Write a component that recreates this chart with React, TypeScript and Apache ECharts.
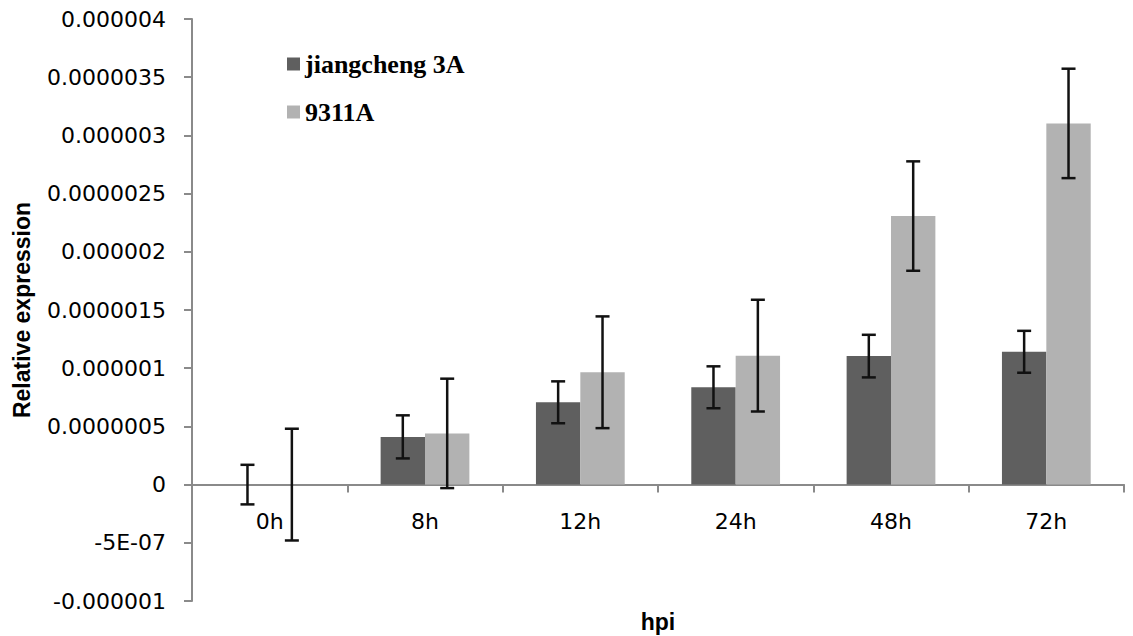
import React, { useEffect, useRef } from "react";
import * as echarts from "echarts";

const categories = ["0h", "8h", "12h", "24h", "48h", "72h"];
const seriesNames = ["jiangcheng 3A", "9311A"];
const jiangcheng = [0, 0.41e-6, 0.707e-6, 0.836e-6, 1.104e-6, 1.141e-6];
const jiangchengErr = [0.17e-6, 0.185e-6, 0.18e-6, 0.18e-6, 0.183e-6, 0.18e-6];
const a9311 = [0, 0.44e-6, 0.965e-6, 1.108e-6, 2.307e-6, 3.103e-6];
const a9311Err = [0.48e-6, 0.47e-6, 0.48e-6, 0.48e-6, 0.47e-6, 0.47e-6];
const yTickLabels = [
  "-0.000001",
  "-5E-07",
  "0",
  "0.0000005",
  "0.000001",
  "0.0000015",
  "0.000002",
  "0.0000025",
  "0.000003",
  "0.0000035",
  "0.000004",
];
const yMin = -0.000001;
const yMax = 0.000004;
const yStep = 0.0000005;

const colors = ["#5f5f5f", "#b2b2b2"];
const CAT_GAP = 1.5 / 3.5;

const GRID_TOP = 19;
const GRID_BOTTOM = 35;
const CHART_H = 636;

function errorSeries(values: number[], errs: number[], side: number) {
  return {
    type: "custom",
    silent: true,
    z: 10,
    encode: { x: 0, y: 1 },
    data: values.map((v, i) => [i, v, errs[i]]),
    renderItem: (params: any, api: any) => {
      const idx = api.value(0);
      const v = api.value(1);
      const e = api.value(2);
      const band = api.size([1, 0])[0];
      const barW = (band * (1 - CAT_GAP)) / 2;
      const top = api.coord([idx, v + e]);
      const bot = api.coord([idx, v - e]);
      const x = top[0] + (side * barW) / 2;
      const cap = 7;
      const style = { stroke: "#111111", lineWidth: 2.5 };
      return {
        type: "group",
        children: [
          { type: "line", shape: { x1: x, y1: top[1], x2: x, y2: bot[1] }, style },
          { type: "line", shape: { x1: x - cap, y1: top[1], x2: x + cap, y2: top[1] }, style },
          { type: "line", shape: { x1: x - cap, y1: bot[1], x2: x + cap, y2: bot[1] }, style },
        ],
      };
    },
  };
}

export default function App() {
  const ref = useRef<HTMLDivElement>(null);
  useEffect(() => {
    if (!ref.current) return;
    const chart = echarts.init(ref.current, null, { renderer: "svg" });
    const axisColor = "#8a8a8a";
    const plotH = CHART_H - GRID_TOP - GRID_BOTTOM;
    const zeroOffset = -plotH * ((0 - yMin) / (yMax - yMin));
    chart.setOption({
      animation: false,
      backgroundColor: "#ffffff",
      color: colors,
      legend: {
        orient: "vertical",
        left: 282,
        top: 46,
        itemWidth: 13,
        itemHeight: 13,
        itemGap: 22,
        icon: "rect",
        data: seriesNames,
        textStyle: {
          fontFamily: "Liberation Serif",
          fontSize: 26,
          fontWeight: "bold",
          color: "#000000",
          lineHeight: 26,
        },
      },
      grid: {
        left: 192,
        right: 9,
        top: GRID_TOP,
        bottom: GRID_BOTTOM,
        containLabel: false,
        outerBoundsMode: "none",
      },
      xAxis: {
        type: "category",
        data: categories,
        offset: zeroOffset,
        name: "hpi",
        nameLocation: "middle",
        nameGap: 126,
        nameTextStyle: {
          fontFamily: "Liberation Sans",
          fontWeight: "bold",
          fontSize: 23,
          color: "#000000",
        },
        axisLine: { onZero: false, lineStyle: { color: axisColor, width: 2 } },
        axisTick: { show: true, length: 8, inside: false, alignWithLabel: false, lineStyle: { color: axisColor, width: 2 } },
        axisLabel: {
          margin: 26,
          fontFamily: "DejaVu Sans",
          fontSize: 22,
          color: "#000000",
        },
        splitLine: { show: false },
      },
      yAxis: {
        type: "value",
        min: yMin,
        max: yMax,
        interval: yStep,
        name: "Relative expression",
        nameLocation: "middle",
        nameGap: 159,
        nameRotate: 90,
        nameTextStyle: {
          fontFamily: "Liberation Sans",
          fontWeight: "bold",
          fontSize: 23,
          color: "#000000",
        },
        axisLine: { show: true, lineStyle: { color: axisColor, width: 2 } },
        axisTick: { show: true, length: 8, inside: false, lineStyle: { color: axisColor, width: 2 } },
        axisLabel: {
          margin: 26,
          fontFamily: "DejaVu Sans",
          fontSize: 22,
          color: "#000000",
          formatter: (val: number) => {
            const i = Math.round((val - yMin) / yStep);
            return yTickLabels[i] ?? "";
          },
        },
        splitLine: { show: false },
      },
      series: [
        {
          name: seriesNames[0],
          type: "bar",
          data: jiangcheng,
          barGap: "0%",
          barCategoryGap: (CAT_GAP * 100).toFixed(2) + "%",
          itemStyle: { color: colors[0] },
        },
        {
          name: seriesNames[1],
          type: "bar",
          data: a9311,
          barGap: "0%",
          barCategoryGap: (CAT_GAP * 100).toFixed(2) + "%",
          itemStyle: { color: colors[1] },
        },
        errorSeries(jiangcheng, jiangchengErr, -1),
        errorSeries(a9311, a9311Err, 1),
      ],
    });
    return () => chart.dispose();
  }, []);
  return (
    <div
      ref={ref}
      style={{ position: "absolute", left: 0, top: 0, width: 1133, height: 636, background: "#fff" }}
    />
  );
}
